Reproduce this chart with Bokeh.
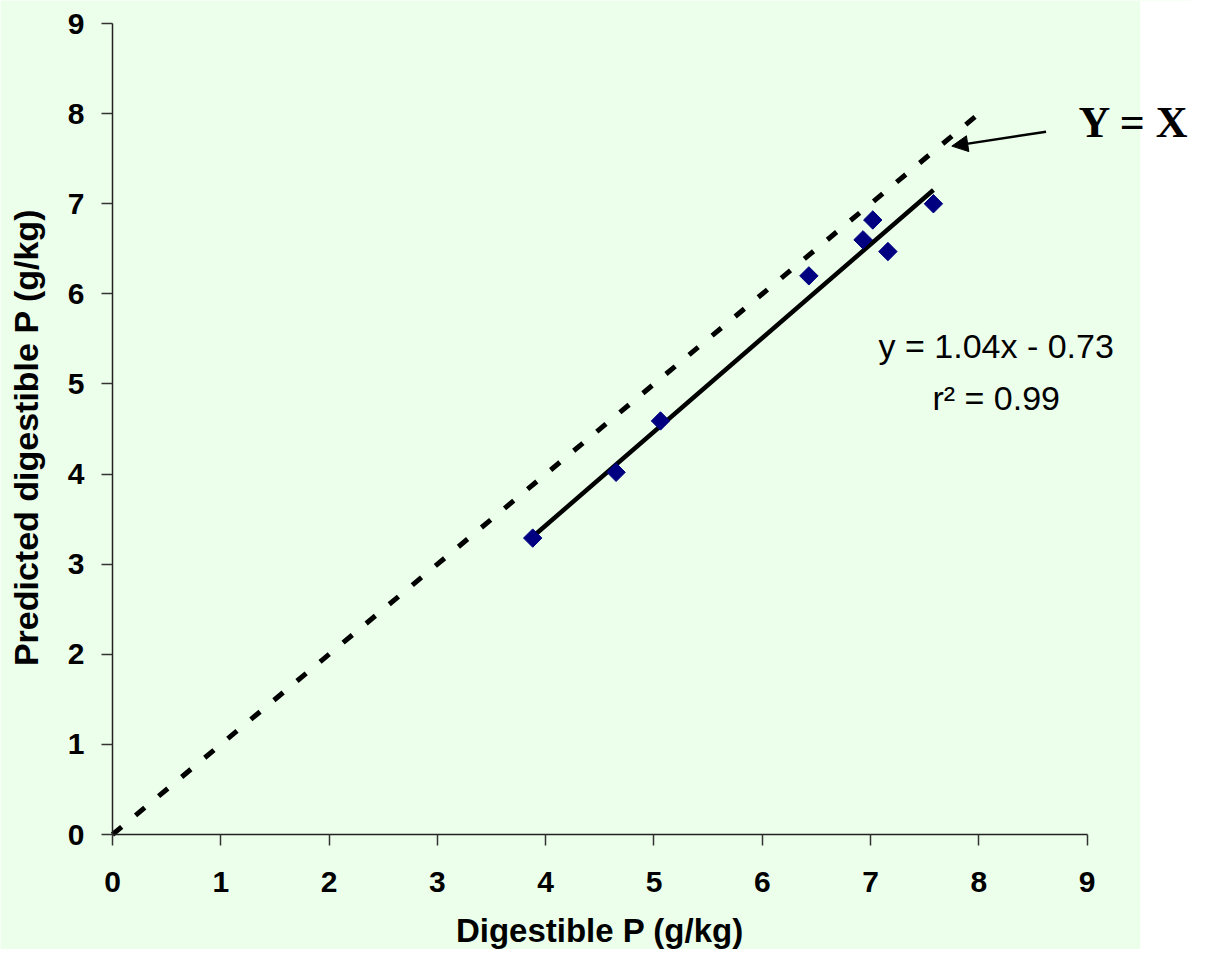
import math
from bokeh.plotting import figure
from bokeh.models import Range1d, BoxAnnotation, Label, Arrow, NormalHead, FixedTicker, ColumnDataSource
from bokeh.embed import file_html
from bokeh.resources import INLINE

# ---- data ----
digestible_p = [3.88, 4.65, 5.06, 6.43, 6.93, 7.02, 7.16, 7.58]
predicted_p = [3.29, 4.02, 4.59, 6.20, 6.60, 6.82, 6.47, 7.00]
fit_slope = 1.04
fit_intercept = -0.73
identity_x = [0, 8]
identity_y = [0, 8]
tick_values = [0, 1, 2, 3, 4, 5, 6, 7, 8, 9]
x_title = "Digestible P (g/kg)"
y_title = "Predicted digestible P (g/kg)"
equation_text = "y = 1.04x - 0.73"
r2_text = "r\u00b2 = 0.99"
yx_text = "Y = X"

BG = "#EBFFEB"
FONT = "Liberation Sans"

W, H = 1191, 949
p = figure(width=W, height=H, output_backend="svg", toolbar_location=None,
           x_range=Range1d(-1.034, 9.963), y_range=Range1d(-1.276, 9.256),
           min_border=0)

p.background_fill_color = BG
p.border_fill_color = BG
p.outline_line_color = None
p.xgrid.visible = False
p.ygrid.visible = False

for ax in (p.xaxis[0], p.yaxis[0]):
    ax.fixed_location = 0
    ax.bounds = (0, 9)
    ax.ticker = FixedTicker(ticks=tick_values)
    ax.minor_tick_line_color = None
    ax.major_tick_in = 0
    ax.major_tick_out = 11
    ax.axis_line_color = "#222222"
    ax.axis_line_width = 1.5
    ax.major_tick_line_color = "#333333"
    ax.major_tick_line_width = 1.5
    ax.major_label_text_font = FONT
    ax.major_label_text_font_style = "bold"
    ax.major_label_text_font_size = "30px"
    ax.major_label_text_color = "black"
p.xaxis.major_label_standoff = 26
p.yaxis.major_label_standoff = 17

# white strip at the right of the chart area
p.add_layout(BoxAnnotation(left=9.49, fill_color="white", fill_alpha=1.0,
                           line_alpha=0, level="underlay"))

# axis titles
p.add_layout(Label(x=4.5, y=-1.06, text=x_title, text_font=FONT,
                   text_font_style="bold", text_font_size="33px",
                   text_align="center", text_baseline="alphabetic", text_color="black"))
p.add_layout(Label(x=-0.80, y=4.406, text=y_title, text_font=FONT,
                   text_font_style="bold", text_font_size="34px", angle=math.pi / 2,
                   text_align="center", text_baseline="alphabetic", text_color="black"))

# identity line Y = X
p.line(identity_x, identity_y, line_color="black", line_width=5,
       line_dash="12 18", line_cap="butt")

# fitted line
fx = [min(digestible_p), max(digestible_p)]
fy = [fit_slope * v + fit_intercept for v in fx]
p.line(fx, fy, line_color="black", line_width=4.5)

# data points
src = ColumnDataSource(dict(x=digestible_p, y=predicted_p))
p.scatter("x", "y", source=src, marker="square", size=13, angle=math.pi / 4,
          fill_color="#000080", line_color="#000080")

# equation text
p.add_layout(Label(x=8.16, y=5.42, text=equation_text, text_font=FONT,
                   text_font_size="34px", text_align="center",
                   text_baseline="alphabetic", text_color="black"))
p.add_layout(Label(x=8.16, y=4.84, text=r2_text, text_font=FONT,
                   text_font_size="34px", text_align="center",
                   text_baseline="alphabetic", text_color="black"))

# arrow and Y = X label
p.add_layout(Arrow(x_start=8.62, y_start=7.80, x_end=7.75, y_end=7.64,
                   line_color="black", line_width=2.5,
                   end=NormalHead(size=16, fill_color="black", line_color="black")))
p.add_layout(Label(x=8.92, y=7.90, text=yx_text, text_font="Liberation Serif",
                   text_font_style="bold", text_font_size="44px",
                   text_align="left", text_baseline="alphabetic", text_color="black"))

open("out.html", "w").write(file_html(p, INLINE))
